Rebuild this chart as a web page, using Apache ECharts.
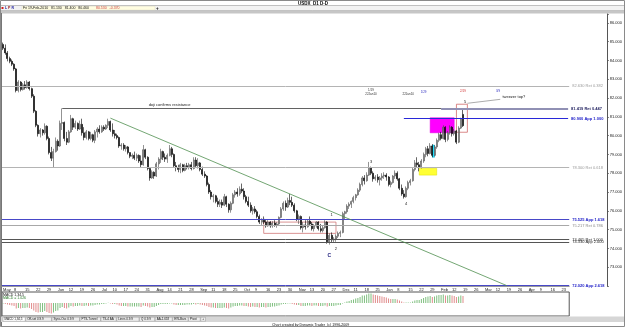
<!DOCTYPE html>
<html><head><meta charset="utf-8">
<script src="https://cdn.jsdelivr.net/npm/echarts/dist/echarts.min.js"></script>
<style>html,body{margin:0;padding:0;background:#fff}#c{width:625px;height:327px}</style>
</head><body><div id="c"></div><script>
// ---------- data ----------
const startDate = '2009-05-01';   // first weekday slot on the time axis
const slotCount = 259;            // weekday slots shown on the axis (through late Apr 2010)

const opens = [84.85,
84.65,84.40,84.10,83.95,83.80, 83.55,82.40,82.85,82.45,82.70, 82.55,82.85,82.50,82.10,81.30,
80.55,80.10,80.30,80.15,80.50, 79.85,79.10,78.80,79.15,79.70, 79.45,80.65,80.70,79.85,79.65,
80.20,80.90,80.45,80.65,80.35, 80.60,80.15,79.90,80.20,79.85, 80.05,79.75,80.20,80.35,80.20,
80.45,80.35,80.55,80.75,80.30, 80.10,80.00,79.90,79.45,79.50, 79.30,79.40,79.10,78.90,78.95,
78.80,78.95,78.65,78.45,79.25, 78.85,78.25,77.75,78.05,77.85, 78.50,78.75,79.15,78.85,78.75,
78.95,79.30,79.00,78.40,78.30, 78.20,78.45,78.15,78.40,78.30, 78.45,78.25,78.70,78.40,78.55,
78.20,77.95,77.85,77.40,77.00, 76.75,76.80,76.50,76.35,76.45, 76.30,76.75,76.35,76.05,76.40,
76.85,77.00,76.90,77.15,77.05, 76.75,76.50,76.30,76.00,76.10, 75.95,75.70,75.40,75.55,75.40,
75.20,75.40,75.20,75.35,75.25, 75.30,75.65,76.10,76.40,76.20, 76.55,76.45,76.30,76.00,75.55,
75.70,75.10,75.25,75.15,75.45, 75.30,75.05,75.20,75.40,75.05, 74.95,75.10,75.40,74.35,74.70,
74.45,74.50,74.65,74.80,74.85, 75.85,75.95,76.25,76.35,76.50, 76.70,76.85,77.10,77.40,77.75,
77.60,77.90,78.30,78.00,77.70, 77.80,77.65,77.75,77.85,77.90, 77.80,77.40,77.50,77.85,78.00,
77.70,77.20,76.90,76.75,77.20, 77.50,77.60,78.20,78.55,78.45, 78.30,78.65,79.00,79.30,79.05,
79.45,78.95,79.40,79.75,80.05, 79.85,80.45,79.80,80.15,80.45, 80.10,80.25,79.65,80.40,81.13];

const highs = [84.95,
84.85,84.50,84.20,84.05,83.85, 83.60,82.95,82.90,82.80,82.90, 82.95,82.90,82.55,82.20,81.35,
80.60,80.40,80.35,80.65,80.55, 79.95,79.40,79.30,79.90,79.80, 80.80,81.45,80.75,80.20,80.30,
81.10,80.95,80.80,80.70,80.80, 80.90,80.45,80.30,80.25,80.20, 80.10,80.30,80.45,80.55,80.55,
80.55,80.60,80.90,80.80,80.65, 80.30,80.10,79.95,79.60,79.60, 79.50,79.45,79.10,79.05,79.15,
79.05,79.00,78.95,79.50,79.30, 78.90,78.30,78.15,78.10,78.60, 78.85,79.30,79.20,79.05,79.05,
79.50,79.40,79.05,78.60,78.45, 78.55,78.50,78.50,78.55,78.55, 78.60,78.85,78.85,78.80,78.60,
78.35,78.10,77.90,77.50,77.10, 76.90,76.85,76.70,76.60,76.60, 76.90,76.80,76.40,76.50,76.95,
77.10,77.20,77.30,77.45,77.20, 76.85,76.75,76.45,76.20,76.25, 76.05,75.80,75.60,75.70,75.55,
75.50,75.45,75.45,75.50,75.40, 75.70,76.20,76.50,76.55,76.70, 76.90,76.75,76.40,76.05,75.80,
75.75,75.40,75.50,75.55,75.70, 75.40,75.30,75.45,75.45,75.30, 75.20,75.50,75.45,74.80,74.85,
74.60,74.75,74.90,74.95,75.95, 76.00,76.35,76.45,76.55,76.80, 76.90,77.20,77.50,77.85,77.90,
78.05,78.60,78.35,78.10,77.90, 77.95,77.85,78.00,78.05,78.00, 77.85,77.60,77.90,78.15,78.10,
77.75,77.40,77.10,77.30,77.60, 77.70,78.30,78.70,78.85,78.60, 78.75,79.10,79.40,79.45,79.60,
79.55,79.50,79.85,80.15,80.20, 80.55,80.50,80.25,80.55,80.50, 80.35,80.30,80.50,80.95,81.40];

const lows = [84.55,
84.30,83.95,83.85,83.70,83.45, 82.30,82.30,82.35,82.40,82.45, 82.50,82.40,82.00,81.20,80.45,
79.95,79.90,80.00,80.05,79.75, 79.00,78.65,78.30,79.10,79.20, 79.40,80.30,79.70,79.50,79.60,
80.15,80.30,80.35,80.25,80.30, 80.00,79.75,79.80,79.75,79.75, 79.65,79.60,79.90,80.10,80.15,
80.25,80.30,80.40,80.20,79.95, 79.85,79.80,79.35,79.25,79.20, 79.15,79.00,78.80,78.75,78.70,
78.65,78.55,78.30,78.40,78.75, 78.15,77.60,77.70,77.70,77.80, 78.20,78.55,78.70,78.60,78.55,
78.90,78.85,78.30,78.10,78.05, 78.00,78.05,78.10,78.20,78.20, 78.15,78.20,78.30,78.25,78.10,
77.85,77.75,77.30,76.90,76.60, 76.45,76.40,76.20,76.20,76.15, 76.25,76.20,75.90,75.90,76.35,
76.70,76.75,76.80,76.95,76.60, 76.40,76.20,75.90,75.80,75.85, 75.60,75.30,75.25,75.30,75.10,
75.15,75.10,75.10,75.15,75.10, 75.25,75.60,76.00,76.00,76.15, 76.30,76.20,75.90,75.45,75.30,
75.00,74.85,75.00,75.10,75.20, 74.95,74.90,75.10,74.95,74.85, 74.85,75.05,74.25,74.20,74.30,
74.30,74.35,74.55,74.60,74.80, 75.55,75.85,76.10,76.15,76.40, 76.55,76.80,77.00,77.30,77.40,
77.55,77.85,77.90,77.55,77.60, 77.50,77.35,77.60,77.70,77.60, 77.30,77.25,77.45,77.70,77.60,
77.10,76.80,76.65,76.70,77.10, 77.35,77.55,78.10,78.30,78.10, 78.25,78.55,78.85,78.90,79.00,
78.85,78.90,79.30,79.65,79.75, 79.80,79.65,79.70,80.05,79.95, 80.00,79.55,79.60,80.35,80.46];

const closes = [84.65,
84.40,84.10,83.95,83.80,83.55, 82.40,82.85,82.45,82.70,82.55, 82.85,82.50,82.10,81.30,80.55,
80.10,80.30,80.15,80.50,79.85, 79.10,78.80,79.15,79.70,79.45, 80.65,80.70,79.85,79.65,80.20,
80.90,80.45,80.65,80.35,80.60, 80.15,79.90,80.20,79.85,80.05, 79.75,80.20,80.35,80.20,80.45,
80.35,80.55,80.75,80.30,80.10, 80.00,79.90,79.45,79.50,79.30, 79.40,79.10,78.90,78.95,78.80,
78.95,78.65,78.45,79.25,78.85, 78.25,77.75,78.05,77.85,78.50, 78.75,79.15,78.85,78.75,78.95,
79.30,79.00,78.40,78.30,78.20, 78.45,78.15,78.40,78.30,78.45, 78.25,78.70,78.40,78.55,78.20,
77.95,77.85,77.40,77.00,76.75, 76.80,76.50,76.35,76.45,76.30, 76.75,76.35,76.05,76.40,76.85,
77.00,76.90,77.15,77.05,76.75, 76.50,76.30,76.00,76.10,75.95, 75.70,75.40,75.55,75.40,75.20,
75.40,75.20,75.35,75.25,75.30, 75.65,76.10,76.40,76.20,76.55, 76.45,76.30,76.00,75.55,75.70,
75.10,75.25,75.15,75.45,75.30, 75.05,75.20,75.40,75.05,74.95, 75.10,75.40,74.35,74.70,74.45,
74.50,74.65,74.80,74.85,75.85, 75.95,76.25,76.35,76.50,76.70, 76.85,77.10,77.40,77.75,77.60,
77.90,78.30,78.00,77.70,77.80, 77.65,77.75,77.85,77.90,77.80, 77.40,77.50,77.85,78.00,77.70,
77.20,76.90,76.75,77.20,77.50, 77.60,78.20,78.55,78.45,78.30, 78.65,79.00,79.30,79.05,79.45,
78.95,79.40,79.75,80.05,79.85, 80.45,79.80,80.15,80.45,80.10, 80.25,79.65,80.40,80.90,80.53];

const macdHist = [-0.05,
-0.1,-0.15,-0.2,-0.25,-0.3, -0.55,-0.5,-0.55,-0.5,-0.5, -0.45,-0.5,-0.6,-0.75,-0.9,
-0.95,-0.9,-0.9,-0.8,-0.9, -1.0,-1.05,-0.95,-0.8,-0.75, -0.5,-0.4,-0.5,-0.55,-0.45,
-0.3,-0.35,-0.3,-0.3,-0.25, -0.3,-0.3,-0.25,-0.3,-0.25, -0.25,-0.2,-0.15,-0.15,-0.1,
-0.1,-0.05,0.02,-0.05,-0.1, -0.1,-0.15,-0.25,-0.3,-0.3, -0.3,-0.35,-0.35,-0.35,-0.35,
-0.35,-0.35,-0.4,-0.25,-0.3, -0.35,-0.45,-0.4,-0.4,-0.3, -0.2,-0.1,-0.1,-0.1,-0.1,
-0.05,-0.05,-0.15,-0.2,-0.2, -0.2,-0.2,-0.2,-0.15,-0.15, -0.15,-0.1,-0.15,-0.1,-0.15,
-0.2,-0.25,-0.3,-0.4,-0.45, -0.45,-0.5,-0.5,-0.5,-0.5, -0.45,-0.5,-0.55,-0.45,-0.35,
-0.3,-0.3,-0.25,-0.25,-0.3, -0.3,-0.35,-0.4,-0.35,-0.4, -0.4,-0.45,-0.4,-0.4,-0.45,
-0.4,-0.4,-0.35,-0.35,-0.3, -0.25,-0.15,-0.1,-0.1,-0.05, -0.05,-0.1,-0.15,-0.2,-0.2,
-0.3,-0.3,-0.3,-0.25,-0.25, -0.3,-0.25,-0.25,-0.3,-0.3, -0.3,-0.25,-0.35,-0.3,-0.3,
-0.3,-0.25,-0.2,-0.2,-0.05, 0.05,0.15,0.2,0.3,0.35, 0.45,0.5,0.6,0.75,0.75,
0.85,0.95,0.95,0.85,0.8, 0.75,0.7,0.65,0.6,0.55, 0.45,0.4,0.4,0.4,0.35,
0.25,0.15,0.05,0.05,0.05, 0.05,0.15,0.25,0.3,0.3, 0.4,0.5,0.6,0.65,0.7,
0.6,0.65,0.75,0.8,0.8, 0.85,0.75,0.75,0.8,0.75, 0.7,0.6,0.65,0.75,0.7];

const yTicks = [73,74,75,76,77,78,79,80,81,82,83,84,85,86];
const lastPrice = 80.53;

// Fibonacci / projection levels
const levelValues = [82.63, 81.419, 80.90, 78.30, 75.525, 75.217, 74.465, 74.33, 72.02];
const levelLabels = ['82.630 Ret 0.382','81.419 Ret 0.447','80.900 App 1.000','78.300 Ret 0.618',
  '75.525 App 1.618','75.217 Ret 0.786','74.465 Ret 1.000','74.330 App 2.000','72.020 App 2.618'];
const levelStartIndex = [null, 200, 183, null, null, null, null, null, null];

// drawn lines: [startIndex, startPrice, endIndex, endPrice]
const trendLine = [49, 80.93, 230, 72.02];
const dojiLine = [27, 81.45, 200, 81.45];
const pointerLine = [212, 81.72, 227, 81.93];

// boxes: [fromIndex, topPrice, toIndex, bottomPrice]
const yellowBox = [190, 78.26, 198, 77.90];
const magentaBox = [195, 80.95, 206, 80.15];
const cyanBox = [196, 79.50, 197, 78.85];
const redBoxTop = [207, 81.67, 212, 80.18];
const redBoxLow = [119, 75.40, 152, 74.80];

// text notes
const noteText  = ['1','2','C','3','4','5','tweezer top?','doji confirms resistance'];
const noteIndex = [150, 152, 149, 168, 184, 211, 228, 76];
const notePrice = [75.77, 74.00, 73.60, 78.59, 76.36, 81.78, 82.05, 81.62];

const timeText  = ['1/19\n22Jan10', '22Jan10', '1/29', '2/19', '3/9'];
const timeIndex = [168, 185, 192, 210, 226];
const timePrice = [82.30, 82.20, 82.30, 82.35, 82.35];

// ---------- build ----------
const categories = [];
(function(){
  let t = Date.parse(startDate + 'T00:00:00Z');
  while (categories.length < slotCount) {
    const d = new Date(t); const w = d.getUTCDay();
    if (w > 0 && w < 6) categories.push(d.toISOString().slice(0,10));
    t += 86400000;
  }
})();
const MON = ['Jan','Feb','Mar','Apr','May','Jun','Jul','Aug','Sep','Oct','Nov','Dec'];
const F = 'Liberation Sans, Arial, sans-serif';
const BAR = 2.19;
const GL = 2, GW = slotCount * BAR;

const candleData = opens.map((o,i) => [o, closes[i], lows[i], highs[i]]);
const macdData = macdHist.map((v,i) => ({value: v, itemStyle: {color: (i > 0 && v < macdHist[i-1]) ? '#e08c8c' : '#7fbf7f'}}));

const levelStyle = [
  {c:'#b4b4b4', w:1, lc:'#9a9a9a', b:'normal'},
  {c:'#9090b4', w:2, lc:'#1c1c5c', b:'bold'},
  {c:'#2828d8', w:1, lc:'#2020c8', b:'bold'},
  {c:'#b4b4b4', w:1, lc:'#9a9a9a', b:'normal'},
  {c:'#4848c8', w:1, lc:'#2020c8', b:'bold'},
  {c:'#a8a8a8', w:1, lc:'#8a8a8a', b:'normal'},
  {c:'#555555', w:1, lc:'#222222', b:'normal'},
  {c:'#555555', w:1, lc:'#222222', b:'normal'},
  {c:'#4848c8', w:1, lc:'#2020c8', b:'bold'}
];
const markLines = [];
levelValues.forEach((v,k) => {
  const st = levelStyle[k];
  const lbl = {show:true, position:'end', distance:3, formatter: levelLabels[k], fontSize:4, fontFamily:F, color: st.lc, fontWeight: st.b};
  const ls = {color: st.c, width: st.w, type:'solid'};
  if (levelStartIndex[k] == null) markLines.push({yAxis: v, lineStyle: ls, label: lbl});
  else markLines.push([{coord:[levelStartIndex[k], v], lineStyle: ls, label: lbl}, {coord:[slotCount-1, v]}]);
});
function seg(a, color, w) {
  return [{coord:[a[0], a[1]], lineStyle:{color, width:w, type:'solid'}, label:{show:false}}, {coord:[a[2], a[3]]}];
}
markLines.push(seg(trendLine, '#4f8f4f', 0.8));
markLines.push(seg(dojiLine, '#505050', 0.9));
markLines.push(seg(pointerLine, '#888888', 0.7));
markLines.push({yAxis: lastPrice, lineStyle:{width:0, opacity:0},
  label:{show:true, position:'end', distance:41, formatter: lastPrice.toFixed(3), fontSize:4, fontFamily:F,
         color:'#000', backgroundColor:'#ffff00', padding:[1,2,0,2]}});

function box(a, fill, border, bw) {
  return [{coord:[a[0], a[1]], itemStyle:{color: fill, borderColor: border, borderWidth: bw}}, {coord:[a[2], a[3]]}];
}
const markAreas = [
  box(yellowBox, '#ffff33', '#e0e000', 0.5),
  box(magentaBox, '#ff00ff', '#e000e0', 0.5),
  box(cyanBox, '#22e0ff', '#00b0d0', 0.5),
  box(redBoxTop, 'rgba(255,255,255,0)', '#d06a6a', 0.8),
  box(redBoxLow, 'rgba(255,255,255,0)', '#d07878', 0.8)
];

const markPoints = noteText.map((t,k) => ({
  coord:[noteIndex[k], notePrice[k]], symbol:'circle', symbolSize:0,
  label:{show:true, formatter:t, position:'inside', fontFamily:F,
    fontSize: t === 'C' ? 5 : 4, fontWeight: t === 'C' ? 'bold' : 'normal',
    color: t === 'C' ? '#1a1a7a' : '#222', align: t === 'tweezer top?' ? 'left' : 'center'}
}));
const timeColor = ['#333','#333','#3030c0','#d03030','#3030c0'];
timeText.forEach((t,k) => markPoints.push({
  coord:[timeIndex[k], timePrice[k]], symbol:'circle', symbolSize:0,
  label:{show:true, formatter:t, position:'inside', fontFamily:F, fontSize:3, lineHeight:3.5, color: timeColor[k]}
}));

const isFriday = v => new Date(v + 'T00:00:00Z').getUTCDay() === 5;

const tabs = ['MACD 1,34,5','Off-set 0.9.9','Sync-Osc 0.9.9','PTS-Tunnel','TS-4 AA','Lines 0.9.9','Q 0.9.9','AA-1.618','EW-Bars','Pivot','+'];
const graphics = [
  {type:'rect', shape:{x:0.5,y:0.5,width:624,height:326}, style:{fill:'none', stroke:'#8a8a8a', lineWidth:1}, z:100},
  {type:'text', left:298, top:0.8, style:{text:'USDX_D1 D-D', font:'bold 4.5px '+F, fill:'#000'}},
  {type:'rect', shape:{x:0,y:5.5,width:625,height:5}, style:{fill:'#f2f2f2', stroke:'#9a9a9a', lineWidth:0.6}},
  {type:'rect', shape:{x:1.5,y:7,width:2,height:2}, style:{fill:'#d02020'}},
  {type:'text', left:5, top:6.4, style:{text:'L', font:'bold 3.5px '+F, fill:'#2020a0'}},
  {type:'text', left:8, top:6.4, style:{text:'P', font:'bold 3.5px '+F, fill:'#a02020'}},
  {type:'text', left:11.5, top:6.4, style:{text:'R', font:'bold 3.5px '+F, fill:'#2020a0'}},
  {type:'rect', shape:{x:22,y:6.3,width:133,height:3.8}, style:{fill:'#fffde0', stroke:'#d8d8c0', lineWidth:0.4}},
  {type:'text', left:23, top:6.5, style:{text:'Fri 19-Feb-2010   81.130   81.400   80.460', font:'3.5px '+F, fill:'#111'}},
  {type:'text', left:96, top:6.5, style:{text:'80.530   -0.370', font:'3.5px '+F, fill:'#d04040'}},
  {type:'text', left:156, top:6, style:{text:'+', font:'bold 4.5px '+F, fill:'#111'}},
  {type:'rect', shape:{x:0,y:10.5,width:625,height:3}, style:{fill:'#c6c6c6'}},
  {type:'line', shape:{x1:1.5,y1:13,x2:1.5,y2:327}, style:{stroke:'#777', lineWidth:1}},
  {type:'text', left:3, top:292.8, style:{text:'MACD 1,34,5', font:'3.5px '+F, fill:'#111'}},
  {type:'text', left:3, top:296.3, style:{text:'MACD = 1.026', font:'3.5px '+F, fill:'#2a7a2a'}},
  {type:'rect', shape:{x:0,y:316.5,width:625,height:5.5}, style:{fill:'#d6d6d6'}},
  {type:'text', left:272, top:322.6, style:{text:'Chart created by Dynamic Trader  (c) 1996-2009', font:'3.6px '+F, fill:'#111'}}
];
let tx = 3;
tabs.forEach((t,k) => {
  const w = t.length * 1.75 + 3;
  graphics.push({type:'rect', shape:{x:tx,y:317.3,width:w,height:4}, style:{fill: k === 0 ? '#ffffff' : '#ececec', stroke:'#888', lineWidth:0.4}});
  graphics.push({type:'text', left:tx+1.5, top:317.6, style:{text:t, font:'3px '+F, fill:'#111'}});
  tx += w + 0.5;
});

const option = {
  animation:false,
  backgroundColor:'#ffffff',
  grid:[
    {left:GL, top:14, width:GW, height:272, show:false},
    {left:GL, top:292, width:GW, height:24, show:true, borderColor:'#555', borderWidth:1, backgroundColor:'#fff'}
  ],
  xAxis:[
    {type:'category', gridIndex:0, data:categories, boundaryGap:true,
     axisLine:{show:true, lineStyle:{color:'#9a9a9a', width:1}}, axisTick:{show:false}, splitLine:{show:false},
     axisLabel:{show:true, interval:(i,v) => isFriday(v), margin:2, align:'left', fontSize:4, fontFamily:F, color:'#222',
       formatter:v => { const d = new Date(v + 'T00:00:00Z'); const day = d.getUTCDate(); return day <= 7 ? MON[d.getUTCMonth()] : String(day); }}},
    {type:'category', gridIndex:1, data:categories, boundaryGap:true, show:false}
  ],
  yAxis:[
    {type:'value', gridIndex:0, position:'right', offset:38, min:72, max:86.47, interval:1, scale:true,
     axisLine:{show:true, lineStyle:{color:'#555', width:1}}, axisTick:{show:true, length:1.5, lineStyle:{color:'#555'}},
     splitLine:{show:false},
     axisLabel:{margin:2.5, fontSize:4, fontFamily:F, color:'#222', showMinLabel:true, showMaxLabel:true,
       formatter:v => (yTicks.indexOf(Math.round(v*1000)/1000) >= 0) ? v.toFixed(3) : ''}},
    {type:'value', gridIndex:1, min:-1.3, max:1.1, show:false}
  ],
  series:[
    {type:'candlestick', name:'USDX', xAxisIndex:0, yAxisIndex:0, data:candleData, barWidth:1.5,
     itemStyle:{color:'#b8b8b8', borderColor:'#4a4a4a', color0:'#000000', borderColor0:'#000000', borderWidth:0.6},
     markLine:{silent:true, symbol:['none','none'], animation:false, data:markLines},
     markArea:{silent:true, data:markAreas},
     markPoint:{silent:true, data:markPoints}},
    {type:'bar', name:'MACD', xAxisIndex:1, yAxisIndex:1, data:macdData, barWidth:1, silent:true}
  ],
  graphic: graphics
};
const chart = echarts.init(document.getElementById('c'));
chart.setOption(option);
</script></body></html>
